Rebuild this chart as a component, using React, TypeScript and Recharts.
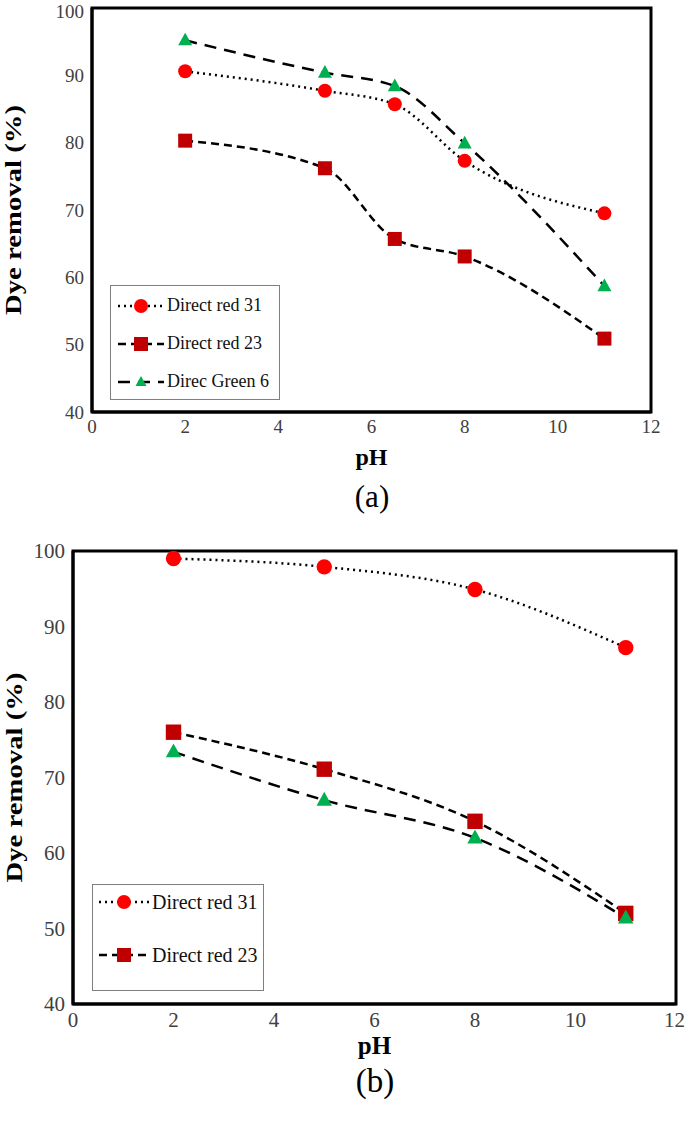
import { LineChart, Line, XAxis, YAxis, Legend, ReferenceArea } from "recharts";

// panel (a)
const phA = [2, 5, 6.5, 8, 11];
const red31A = [90.6, 87.7, 85.7, 77.3, 69.5];
const red23A = [80.3, 76.2, 65.7, 63.1, 50.9];
const green6A = [95.2, 90.4, 88.4, 79.9, 58.7];

// panel (b)
const phB = [2, 5, 8, 11];
const red31B = [99.0, 97.9, 94.9, 87.2];
const red23B = [76.0, 71.1, 64.2, 52.0];
const green6B = [73.4, 67.0, 62.0, 51.4];

const xTicks = [0, 2, 4, 6, 8, 10, 12];
const yTicks = [40, 50, 60, 70, 80, 90, 100];

const SERIES = {
  r31: { name: "Direct red 31", dash: "2 4", marker: "circle" },
  r23: { name: "Direct red 23", dash: "8 5", marker: "square" },
  g6: { name: "Direc Green 6", dash: "12 8", marker: "triangle" },
};

const FONT = "Liberation Serif, Tinos, DejaVu Serif, Noto Serif, serif";

const dataA = phA.map((ph, i) => ({ ph, r31: red31A[i], r23: red23A[i], g6: green6A[i] }));
const dataB = phB.map((ph, i) => ({ ph, r31: red31B[i], r23: red23B[i], g6: green6B[i] }));

function Marker({ cx, cy, kind, size }) {
  if (cx == null || cy == null) return null;
  if (kind === "circle") return <circle cx={cx} cy={cy} r={size / 2} fill="#FF0000" />;
  if (kind === "square")
    return <rect x={cx - size / 2} y={cy - size / 2} width={size} height={size} fill="#C00000" />;
  const h = size * 0.9;
  return (
    <polygon
      points={`${cx},${cy - h * 0.6} ${cx - size / 2},${cy + h * 0.4} ${cx + size / 2},${cy + h * 0.4}`}
      fill="#00B050"
    />
  );
}

const dotFor = (kind, size) => (p) =>
  <Marker key={`${kind}-${p.index}`} cx={p.cx} cy={p.cy} kind={kind} size={size} />;

function YTitle(props) {
  const vb = props.viewBox || { x: 0, y: 0, width: 90, height: 400 };
  const x = vb.x + props.dx;
  const y = vb.y + vb.height / 2;
  return (
    <text
      x={x}
      y={y}
      transform={`rotate(-90, ${x}, ${y})`}
      textAnchor="middle"
      dominantBaseline="central"
      fontFamily={FONT}
      fontWeight="bold"
      fontSize={24}
      textLength={210}
      lengthAdjust="spacingAndGlyphs"
      fill="#000"
    >
      Dye removal (%)
    </text>
  );
}

function XTitle(props) {
  const vb = props.viewBox || { x: 0, y: 0, width: 500, height: 60 };
  return (
    <text
      x={vb.x + vb.width / 2}
      y={vb.y + props.dy}
      textAnchor="middle"
      dominantBaseline="central"
      fontFamily={FONT}
      fontWeight="bold"
      fontSize={props.size}
      fill="#000"
    >
      pH
    </text>
  );
}

function legendContent(keys, o) {
  return () => (
    <div
      style={{
        position: "relative",
        width: o.w,
        height: o.h,
        border: "1.5px solid #7f7f7f",
        boxSizing: "border-box",
        background: "#fff",
        fontFamily: FONT,
      }}
    >
      {keys.map((k, i) => {
        const s = SERIES[k];
        const cy = o.first + i * o.step;
        return (
          <div key={k}>
            <svg
              width={o.sw}
              height={20}
              style={{ position: "absolute", left: o.sx, top: cy - 10 }}
            >
              <line x1={0} y1={10} x2={o.sw} y2={10} stroke="#000" strokeWidth={2.5} strokeDasharray={s.dash} />
              <Marker cx={o.sw / 2} cy={10} kind={s.marker} size={s.marker === "triangle" ? 11 : 14} />
            </svg>
            <span
              style={{
                position: "absolute",
                left: o.tx,
                top: cy - o.fs * 0.62,
                fontSize: o.fs,
                lineHeight: 1.2,
                color: "#111",
                whiteSpace: "nowrap",
              }}
            >
              {s.name}
            </span>
          </div>
        );
      })}
    </div>
  );
}

function Panel({ data, width, height, margin, yWidth, tickSize, titleDx, xTitleDy, xTitleSize, legendKeys, legendOpts, legendPos, markerScale }) {
  const tick = { fontSize: tickSize, fontFamily: FONT, fill: "#404040" };
  return (
    <LineChart width={width} height={height} data={data} margin={margin}>
      <XAxis
        dataKey="ph"
        type="number"
        domain={[0, 12]}
        ticks={xTicks}
        tick={tick}
        tickLine={false}
        axisLine={{ stroke: "#000", strokeWidth: 3 }}
        height={60}
        label={<XTitle dy={xTitleDy} size={xTitleSize} />}
      />
      <YAxis
        type="number"
        domain={[40, 100]}
        ticks={yTicks}
        tick={tick}
        tickLine={false}
        axisLine={{ stroke: "#000", strokeWidth: 3 }}
        width={yWidth}
        label={<YTitle dx={titleDx} />}
      />
      <ReferenceArea x1={0} x2={12} y1={40} y2={100} fill="none" stroke="#000" strokeWidth={3} ifOverflow="visible" />
      <Line
        type="monotone"
        dataKey="r31"
        name={SERIES.r31.name}
        stroke="#000"
        strokeWidth={2.5}
        strokeDasharray={SERIES.r31.dash}
        dot={dotFor("circle", 14 * markerScale)}
        activeDot={false}
        isAnimationActive={false}
      />
      <Line
        type="monotone"
        dataKey="r23"
        name={SERIES.r23.name}
        stroke="#000"
        strokeWidth={2.5}
        strokeDasharray={SERIES.r23.dash}
        dot={dotFor("square", 14 * markerScale)}
        activeDot={false}
        isAnimationActive={false}
      />
      <Line
        type="monotone"
        dataKey="g6"
        name={SERIES.g6.name}
        stroke="#000"
        strokeWidth={2.5}
        strokeDasharray={SERIES.g6.dash}
        dot={dotFor("triangle", 14 * markerScale)}
        activeDot={false}
        isAnimationActive={false}
      />
      <Legend
        layout="vertical"
        align="center"
        verticalAlign="middle"
        content={legendContent(legendKeys, legendOpts)}
        wrapperStyle={{ position: "absolute", left: legendPos.left, top: legendPos.top, width: legendOpts.w, height: legendOpts.h }}
      />
    </LineChart>
  );
}

export default function App() {
  return (
    <div style={{ position: "absolute", left: 0, top: 0, width: 685, height: 1123, background: "#fff", fontFamily: FONT }}>
      <div style={{ position: "absolute", left: 0, top: 0 }}>
        <Panel
          data={dataA}
          width={685}
          height={520}
          margin={{ top: 8, right: 34, left: 0, bottom: 48 }}
          yWidth={92}
          tickSize={19}
          titleDx={13}
          xTitleDy={45}
          xTitleSize={24}
          legendKeys={["r31", "r23", "g6"]}
          legendOpts={{ w: 170, h: 115, first: 20, step: 38, sx: 7, sw: 46, tx: 56, fs: 18 }}
          legendPos={{ left: 110, top: 285 }}
          markerScale={1}
        />
      </div>
      <div style={{ position: "absolute", left: 0, top: 520 }}>
        <Panel
          data={dataB}
          width={685}
          height={603}
          margin={{ top: 31, right: 9, left: 0, bottom: 59 }}
          yWidth={73}
          tickSize={21}
          titleDx={14}
          xTitleDy={41}
          xTitleSize={25}
          legendKeys={["r31", "r23"]}
          legendOpts={{ w: 172, h: 107, first: 17, step: 53, sx: 6, sw: 50, tx: 59, fs: 20 }}
          legendPos={{ left: 92, top: 364 }}
          markerScale={1.1}
        />
      </div>
      <div style={{ position: "absolute", left: 322, top: 478, width: 100, textAlign: "center", fontSize: 31, lineHeight: "38px" }}>
        (a)
      </div>
      <div style={{ position: "absolute", left: 325, top: 1061, width: 100, textAlign: "center", fontSize: 33, lineHeight: "40px" }}>
        (b)
      </div>
    </div>
  );
}
